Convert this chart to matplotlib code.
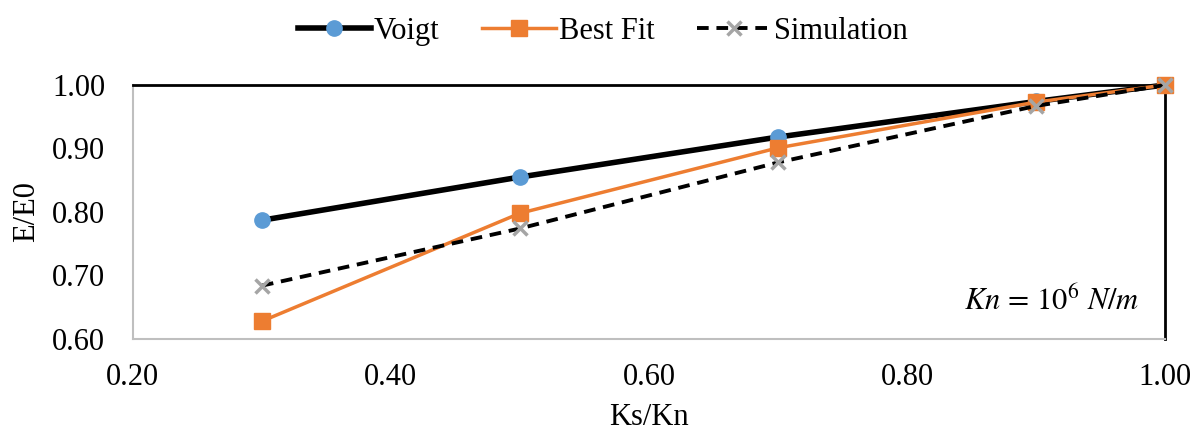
import matplotlib.pyplot as plt
import numpy as np

plt.rcParams['font.family'] = ['Liberation Serif', 'DejaVu Serif']
plt.rcParams['mathtext.fontset'] = 'stix'

# data
ks_kn = [0.3, 0.5, 0.7, 0.9, 1.0]
voigt = [0.787, 0.855, 0.918, 0.974, 1.0]
best_fit = [0.628, 0.798, 0.901, 0.973, 1.0]
simulation = [0.684, 0.774, 0.878, 0.967, 1.0]

fig = plt.figure(figsize=(11.97, 4.36), dpi=100)
ax = fig.add_axes([0.111, 0.2225, 0.8623, 0.5826])

ax.plot(ks_kn, voigt, color='black', lw=4, marker='o', ms=11,
        mfc='#5B9BD5', mec='#5B9BD5', label='Voigt', zorder=3, clip_on=False)
ax.plot(ks_kn, best_fit, color='#ED7D31', lw=2.5, marker='s', ms=11,
        mfc='#ED7D31', mec='#ED7D31', label='Best Fit', zorder=4, clip_on=False)
ax.plot(ks_kn, simulation, color='black', lw=2.8, ls=(0, (3, 2)), marker='x', ms=10,
        mec='#A5A5A5', mew=2.5, label='Simulation', zorder=5, clip_on=False)

ax.set_xlim(0.2, 1.0)
ax.set_ylim(0.6, 1.0)
ax.set_xticks(np.arange(0.2, 1.01, 0.2))
ax.set_yticks(np.arange(0.6, 1.01, 0.1))
ax.xaxis.set_major_formatter(plt.FormatStrFormatter('%.2f'))
ax.yaxis.set_major_formatter(plt.FormatStrFormatter('%.2f'))
ax.tick_params(length=0, labelsize=22)
ax.tick_params(axis='x', pad=17)
ax.tick_params(axis='y', pad=20)

for s in ['left', 'bottom']:
    ax.spines[s].set_color('#BFBFBF')
    ax.spines[s].set_linewidth(1.5)
for s in ['top', 'right']:
    ax.spines[s].set_color('black')
    ax.spines[s].set_linewidth(2)

ax.set_xlabel('Ks/Kn', fontsize=22, labelpad=8)
ax.set_ylabel('E/E0', fontsize=22, labelpad=8)

ax.text(0.975, 0.15, r'$Kn\,=\,10^{6}\ N/m$', transform=ax.transAxes,
        ha='right', va='center', fontsize=22)

ax.legend(loc='center', bbox_to_anchor=(0.455, 1.21), ncol=3, frameon=False,
          fontsize=22, handlelength=2.4, columnspacing=1.4, handletextpad=0.1)

plt.savefig('out.png', dpi=100)
